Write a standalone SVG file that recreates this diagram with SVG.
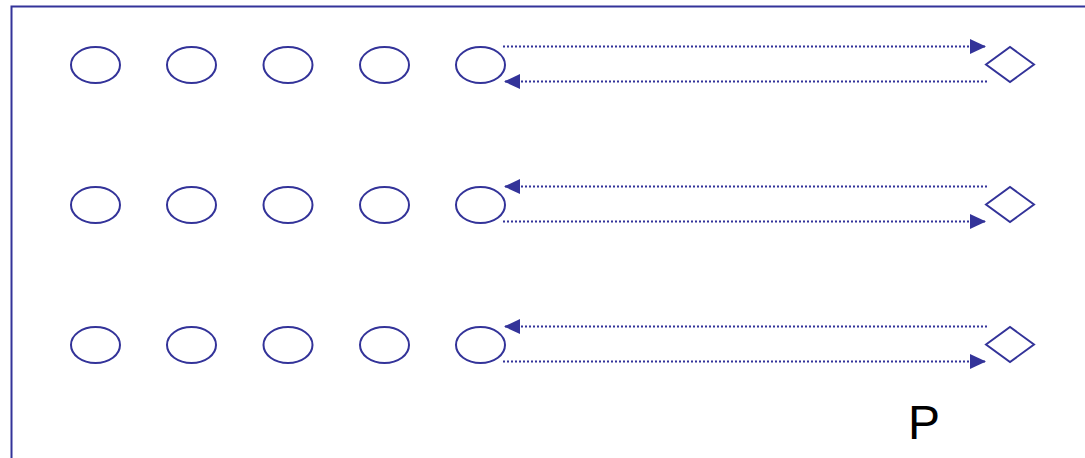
<svg xmlns="http://www.w3.org/2000/svg" width="1085" height="458" viewBox="0 0 1085 458">
<style>
.n{fill:none;stroke:#333399;stroke-width:2}
.c{fill:none;stroke:#333399;stroke-width:2;stroke-dasharray:2 2}
</style>
<defs>
<marker id="ah" markerWidth="16" markerHeight="15" refX="16" refY="7.5" orient="auto" markerUnits="userSpaceOnUse">
<path d="M0,0 L16,7.5 L0,15 Z" fill="#333399"/>
</marker>
</defs>
<rect x="11.5" y="6.5" width="1090" height="470" class="n"/>
<g id="r1a"><ellipse cx="95.5" cy="65" rx="24.5" ry="18" class="n"/></g>
<g id="r1b"><ellipse cx="191.5" cy="65" rx="24.5" ry="18" class="n"/></g>
<g id="r1c"><ellipse cx="288" cy="65" rx="24.5" ry="18" class="n"/></g>
<g id="r1d"><ellipse cx="384.5" cy="65" rx="24.5" ry="18" class="n"/></g>
<g id="r1e"><ellipse cx="480.5" cy="65" rx="24.5" ry="18" class="n"/></g>
<g id="r1f"><path d="M986,64.5 L1010,47 L1034,64.5 L1010,82 Z" class="n"/></g>
<g id="r2a"><ellipse cx="95.5" cy="205" rx="24.5" ry="18" class="n"/></g>
<g id="r2b"><ellipse cx="191.5" cy="205" rx="24.5" ry="18" class="n"/></g>
<g id="r2c"><ellipse cx="288" cy="205" rx="24.5" ry="18" class="n"/></g>
<g id="r2d"><ellipse cx="384.5" cy="205" rx="24.5" ry="18" class="n"/></g>
<g id="r2e"><ellipse cx="480.5" cy="205" rx="24.5" ry="18" class="n"/></g>
<g id="r2f"><path d="M986,204.5 L1010,187 L1034,204.5 L1010,222 Z" class="n"/></g>
<g id="r3a"><ellipse cx="95.5" cy="345" rx="24.5" ry="18" class="n"/></g>
<g id="r3b"><ellipse cx="191.5" cy="345" rx="24.5" ry="18" class="n"/></g>
<g id="r3c"><ellipse cx="288" cy="345" rx="24.5" ry="18" class="n"/></g>
<g id="r3d"><ellipse cx="384.5" cy="345" rx="24.5" ry="18" class="n"/></g>
<g id="r3e"><ellipse cx="480.5" cy="345" rx="24.5" ry="18" class="n"/></g>
<g id="r3f"><path d="M986,344.5 L1010,327 L1034,344.5 L1010,362 Z" class="n"/></g>
<g id="connectors">
<line x1="503" y1="46.5" x2="986" y2="46.5" class="c" marker-end="url(#ah)"/>
<line x1="987" y1="81.5" x2="504" y2="81.5" class="c" marker-end="url(#ah)"/>
<line x1="987" y1="186.5" x2="504" y2="186.5" class="c" marker-end="url(#ah)"/>
<line x1="503" y1="221.5" x2="986" y2="221.5" class="c" marker-end="url(#ah)"/>
<line x1="987" y1="326.5" x2="504" y2="326.5" class="c" marker-end="url(#ah)"/>
<line x1="503" y1="361.5" x2="986" y2="361.5" class="c" marker-end="url(#ah)"/>
</g>
<text x="908" y="439" font-family="Liberation Sans, Arial, sans-serif" font-size="48" fill="#000">P</text>
</svg>
